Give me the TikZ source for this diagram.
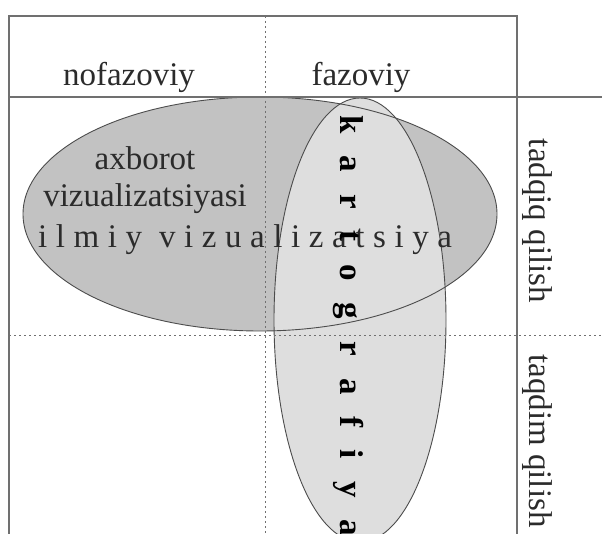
\documentclass[tikz,border=0pt]{standalone}
\usepackage{fontspec}
\setmainfont{Liberation Serif}
\usetikzlibrary{positioning}

\definecolor{darkfill}{HTML}{C2C2C2}
\definecolor{lightfill}{HTML}{DEDEDE}
\definecolor{framegray}{HTML}{707070}
\definecolor{textgray}{HTML}{2B2B2B}

\tikzset{
  boxline/.style={draw=framegray, line width=1.2pt},
  gridline/.style={draw=framegray, line width=1pt, dash pattern=on 2pt off 3pt},
  blob/.style={draw=black!70, line width=0.9pt},
  txt/.style={text=textgray, font=\fontsize{33}{36}\selectfont, inner sep=0pt}
}

\begin{document}
\begin{tikzpicture}[x=1pt, y=-1pt]
    \clip (0,0) rectangle (602,534);

    % ellipses
    \fill [darkfill] (260,214) ellipse [x radius=237pt, y radius=117pt];
    \fill [lightfill] (360,320) ellipse [x radius=86pt, y radius=222pt];
    \draw [blob] (260,214) ellipse [x radius=237pt, y radius=117pt];
    \draw [blob] (360,320) ellipse [x radius=86pt, y radius=222pt];

    % frame and grid
    \draw [boxline] (9,534) -- (9,16) -- (517,16) -- (517,534);
    \draw [boxline] (9,97) -- (602,97);
    \draw [gridline] (265,16) -- (265,534);
    \draw [gridline] (9,336) -- (602,336);

    % texts
    \node [txt, anchor=base] (nofaz) at (129,86) {nofazoviy};
    \node [txt, anchor=base] (faz) at (361,86) {fazoviy};
    \node [txt, anchor=base] (axborot) at (145,170) {axborot};
    \node [txt, anchor=base] (vizual) at (145,207) {vizualizatsiyasi};
    \node [txt, anchor=base west] (ilmiy) at (38,248) {\addfontfeature{LetterSpace=26}ilmiy vizualizatsiya};
    \node [txt, text=black, font=\fontsize{33}{36}\selectfont\bfseries, rotate=-90, anchor=base west] (karto) at (340,115) {\addfontfeature{LetterSpace=67}kartografiya};
    \node [txt, rotate=-90] (tadqiq) at (537,221) {tadqiq qilish};
    \node [txt, rotate=-90] (taqdim) at (537,441) {taqdim qilish};
\end{tikzpicture}
\end{document}
